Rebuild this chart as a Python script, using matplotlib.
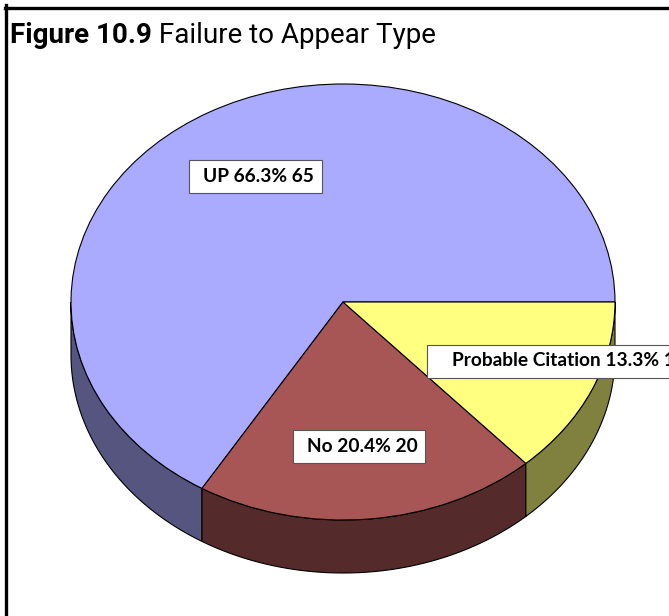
import numpy as np
import matplotlib
matplotlib.use('Agg')
import matplotlib.pyplot as plt
from matplotlib.patches import Polygon, Rectangle
from matplotlib.lines import Line2D
from matplotlib.transforms import IdentityTransform

# ---- data ----
categories = ['UP', 'No', 'Probable Citation']
counts = [65, 20, 13]
percents = [66.3, 20.4, 13.3]
top_colors = ['#AAAAFF', '#A85555', '#FFFF80']
side_colors = ['#55557F', '#552A2A', '#80803F']
title_bold = 'Figure 10.9'
title_rest = ' Failure to Appear Type'

W, H = 669, 616
fig = plt.figure(figsize=(W / 100, H / 100), dpi=100)
ax = fig.add_axes([0, 0, 1, 1])

# ellipse geometry in pixels
CX, CY = 343, 302
RX, RY = 272, 218
DEPTH = 53 / RY

wedges, _ = ax.pie(counts, colors=top_colors, startangle=0, counterclock=True,
                   radius=1, center=(0, 0), frame=False,
                   wedgeprops=dict(edgecolor='black', linewidth=0.8))
for w in wedges:
    w.set_zorder(3)

# side walls
total = float(sum(counts))
bounds = np.concatenate([[0], np.cumsum(counts) / total * 360.0])
for i in range(len(counts)):
    s0 = max(bounds[i], 180.0)
    s1 = min(bounds[i + 1], 360.0)
    if s0 < s1:
        t = np.radians(np.linspace(s0, s1, 200))
        xs = np.cos(t)
        ys = np.sin(t)
        pts = np.vstack([np.column_stack([xs, ys]),
                         np.column_stack([xs[::-1], ys[::-1] - DEPTH])])
        ax.add_patch(Polygon(pts, closed=True, facecolor=side_colors[i],
                             edgecolor='black', linewidth=0.8, zorder=2))

ax.set_xlim(-CX / RX, (W - CX) / RX)
ax.set_ylim(-(H - CY) / RY, CY / RY)
ax.set_aspect('auto')
ax.axis('off')

# labels (text start x in px, centre y in px, left pad, right pad)
label_font = ['Lato', 'DejaVu Sans']
label_layout = [(203, 176.5, 14, 8), (307, 446.5, 14, 7), (452, 361, 25, 40)]
label_texts = []
for i in range(3):
    x0, yc, _, _ = label_layout[i]
    txt = fig.text(x0 / W, 1 - yc / H,
                   f'{categories[i]} {percents[i]}% {counts[i]}',
                   ha='left', va='center', fontsize=13.8, fontweight='bold',
                   family=label_font, zorder=6)
    label_texts.append(txt)

# border (left and top visible)
fig.add_artist(Line2D([6.5 / W, 6.5 / W], [0, 1 - 5 / H], color='black',
                      linewidth=2.4, transform=fig.transFigure))
fig.add_artist(Line2D([5 / W, 1], [1 - 7.5 / H, 1 - 7.5 / H], color='black',
                      linewidth=2.4, transform=fig.transFigure))

# title
tfont = ['Roboto', 'DejaVu Sans']
t1 = fig.text(10 / W, 1 - 43 / H, title_bold, fontsize=20, fontweight='bold',
              family=tfont, va='baseline', ha='left')
fig.canvas.draw()
bb = t1.get_window_extent()
fig.text(bb.x1 / W, 1 - 43 / H, title_rest, fontsize=20, family=tfont,
         va='baseline', ha='left')

# label boxes sized from the rendered text
r = fig.canvas.get_renderer()
for txt, (x0, yc, lp, rp) in zip(label_texts, label_layout):
    e = txt.get_window_extent(r)
    ybot = H - yc - 16.5
    fig.add_artist(Rectangle((e.x0 - lp, ybot), e.width + lp + rp, 33,
                             transform=IdentityTransform(), facecolor='white',
                             edgecolor='#555555', linewidth=0.8, zorder=5))

fig.savefig('out.png', dpi=100)
